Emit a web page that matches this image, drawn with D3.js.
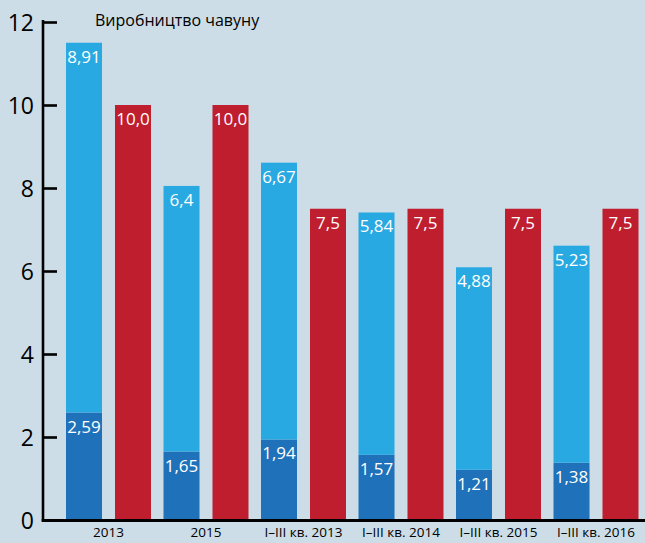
<!DOCTYPE html>
<html>
<head>
<meta charset="utf-8">
<script src="https://cdn.jsdelivr.net/npm/d3@7"></script>
<style>
  html, body { margin: 0; padding: 0; background: #cddde7; }
  svg { display: block; font-family: "Open Sans", "Noto Sans", sans-serif; }
</style>
</head>
<body>
<svg id="chart" width="645" height="543"></svg>
<script>
const categories = ['2013', '2015', 'I–III кв. 2013', 'I–III кв. 2014', 'I–III кв. 2015', 'I–III кв. 2016'];
const darkBlue  = [2.59, 1.65, 1.94, 1.57, 1.21, 1.38];
const lightBlue = [8.91, 6.4, 6.67, 5.84, 4.88, 5.23];
const redValues = [10.0, 10.0, 7.5, 7.5, 7.5, 7.5];
const darkLabels  = ['2,59', '1,65', '1,94', '1,57', '1,21', '1,38'];
const lightLabels = ['8,91', '6,4', '6,67', '5,84', '4,88', '5,23'];
const redLabels   = ['10,0', '10,0', '7,5', '7,5', '7,5', '7,5'];
const yTicks = [0, 2, 4, 6, 8, 10, 12];
const title = 'Виробництво чавуну';

const COLORS = { dark: '#1f72b9', light: '#29a9e1', red: '#be1e2e' };

let svg = d3.select('#chart');

let y = d3.scaleLinear().domain([0, 12]).range([520, 22]);
let x0 = d3.scaleBand().domain(categories).range([60, 645]);
let x1 = d3.scaleBand().domain(['blue', 'red']).range([6, 91]).paddingInner(0.265);

let rows = categories.map((c, i) => ({
  cat: c,
  dark: darkBlue[i], light: lightBlue[i], red: redValues[i],
  darkLabel: darkLabels[i], lightLabel: lightLabels[i], redLabel: redLabels[i]
}));

let groups = svg.selectAll('g.group')
    .data(rows)
    .join('g')
    .attr('class', 'group')
    .attr('transform', d => `translate(${x0(d.cat)},0)`);

// stacked blue bar
groups.append('rect')
    .attr('x', x1('blue'))
    .attr('width', x1.bandwidth())
    .attr('y', d => y(d.dark))
    .attr('height', d => y(0) - y(d.dark))
    .attr('fill', COLORS.dark);

groups.append('rect')
    .attr('x', x1('blue'))
    .attr('width', x1.bandwidth())
    .attr('y', d => y(d.dark + d.light))
    .attr('height', d => y(d.dark) - y(d.dark + d.light))
    .attr('fill', COLORS.light);

groups.append('rect')
    .attr('x', x1('red'))
    .attr('width', x1.bandwidth())
    .attr('y', d => y(d.red))
    .attr('height', d => y(0) - y(d.red))
    .attr('fill', COLORS.red);

// value labels
let addLabel = (xKey, yVal, text) => {
  groups.append('text')
      .attr('x', x1(xKey) + x1.bandwidth() / 2)
      .attr('y', d => y(yVal(d)) + 20)
      .attr('text-anchor', 'middle')
      .attr('fill', '#fff')
      .style('font-size', '17px')
      .text(text);
};
addLabel('blue', d => d.dark, d => d.darkLabel);
addLabel('blue', d => d.dark + d.light, d => d.lightLabel);
addLabel('red', d => d.red, d => d.redLabel);

// y axis
let yAxis = d3.axisLeft(y)
    .tickValues(yTicks)
    .tickSizeInner(-14)
    .tickSizeOuter(0)
    .tickPadding(9)
    .tickFormat(d3.format('d'));

let yg = svg.append('g').attr('transform', 'translate(43,0)').call(yAxis);
yg.select('.domain').remove();
yg.selectAll('.tick line').attr('stroke', '#000').attr('stroke-width', 2.6);
yg.selectAll('.tick text')
    .attr('fill', '#000')
    .style('font-size', '23px')
    .style('font-family', '"Open Sans", "Noto Sans", sans-serif')
    .attr('dy', '0.36em');

svg.append('line')
    .attr('x1', 43).attr('x2', 43)
    .attr('y1', y(12) - 2).attr('y2', y(0) + 1.5)
    .attr('stroke', '#000').attr('stroke-width', 2.6);

svg.append('line')
    .attr('x1', 41.7).attr('x2', 645)
    .attr('y1', y(0) + 0.5).attr('y2', y(0) + 0.5)
    .attr('stroke', '#000').attr('stroke-width', 2.8);

// category labels
svg.selectAll('text.cat')
    .data(categories)
    .join('text')
    .attr('class', 'cat')
    .attr('x', d => x0(d) + 48.5)
    .attr('y', 537)
    .attr('text-anchor', 'middle')
    .attr('fill', '#000')
    .style('font-size', '13.5px')
    .text(d => d);

// title
svg.append('text')
    .attr('x', 95)
    .attr('y', 26)
    .attr('fill', '#000')
    .style('font-size', '16px')
    .text(title);
</script>
</body>
</html>
